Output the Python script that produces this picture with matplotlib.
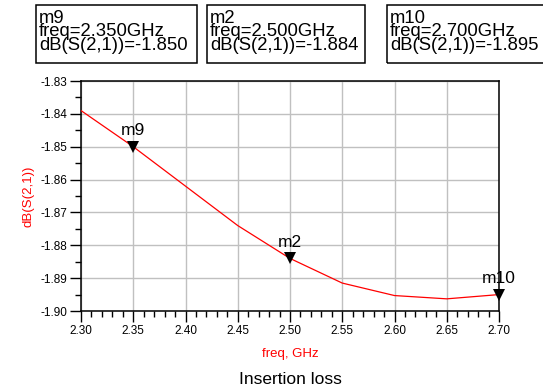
import matplotlib
matplotlib.use('Agg')
import matplotlib.pyplot as plt
from matplotlib.ticker import MultipleLocator

plt.rcParams['font.family'] = ['Liberation Sans', 'DejaVu Sans']

# データ
freq = [2.30, 2.35, 2.40, 2.45, 2.50, 2.55, 2.60, 2.65, 2.70]
s21 = [-1.839, -1.850, -1.862, -1.874, -1.884, -1.8915, -1.8953, -1.8963, -1.895]
mk_names = ['m9', 'm2', 'm10']
mk_freq = [2.35, 2.50, 2.70]
mk_val = [-1.850, -1.884, -1.895]

fig = plt.figure(figsize=(5.43, 3.90), dpi=100)
ax = fig.add_axes([81/543, 1-311/390, 418/543, 230/390])

ax.plot(freq, s21, color='red', lw=0.9, zorder=3)
for n, f, v in zip(mk_names, mk_freq, mk_val):
    ax.plot([f], [v], marker='v', color='black', ms=8, zorder=4,
            markeredgewidth=0, clip_on=False)
    ax.annotate(n, (f, v), xytext=(0, 6), textcoords='offset points',
                ha='center', va='bottom', fontsize=12.5, zorder=5,
                annotation_clip=False)

ax.set_xlim(2.30, 2.70)
ax.set_ylim(-1.90, -1.83)
ax.xaxis.set_major_locator(MultipleLocator(0.05))
ax.xaxis.set_minor_locator(MultipleLocator(0.01))
ax.yaxis.set_major_locator(MultipleLocator(0.01))
ax.yaxis.set_minor_locator(MultipleLocator(0.005))
ax.set_xticklabels([f'{t:.2f}' for t in ax.get_xticks()])
ax.set_yticklabels([f'{t:.2f}' for t in ax.get_yticks()])
ax.tick_params(which='major', direction='out', length=8, width=1, labelsize=8.5, pad=2)
ax.tick_params(which='minor', direction='out', length=4, width=1)
ax.tick_params(top=False, right=False)
ax.grid(True, which='major', color='#c0c0c0', lw=1)
for s in ax.spines.values():
    s.set_linewidth(1.1)

ax.set_ylabel('dB(S(2,1))', color='red', fontsize=9.5, labelpad=4)
ax.set_xlabel('freq, GHz', color='red', fontsize=9.5, labelpad=8)
fig.text(0.5*(81+499)/543, 1-380/390, 'Insertion loss', ha='center',
         va='center', fontsize=12.5)

# マーカー表示ボックス
boxes = [(36, 197), (207, 365), (387, 560)]
for (x0, x1), n, f, v in zip(boxes, mk_names, mk_freq, mk_val):
    txt = f'{n}\nfreq={f:.3f}GHz\ndB(S(2,1))={v:.3f}'
    fig.text((x0+3)/543, 1-10/390, txt, ha='left', va='top', fontsize=13.3,
             linespacing=0.72)
    fig.patches.append(plt.Rectangle((x0/543, 1-63/390), (x1-x0)/543, 58/390,
                                     transform=fig.transFigure, fill=False,
                                     edgecolor='black', lw=1.1))

fig.savefig('out.png', dpi=100)
